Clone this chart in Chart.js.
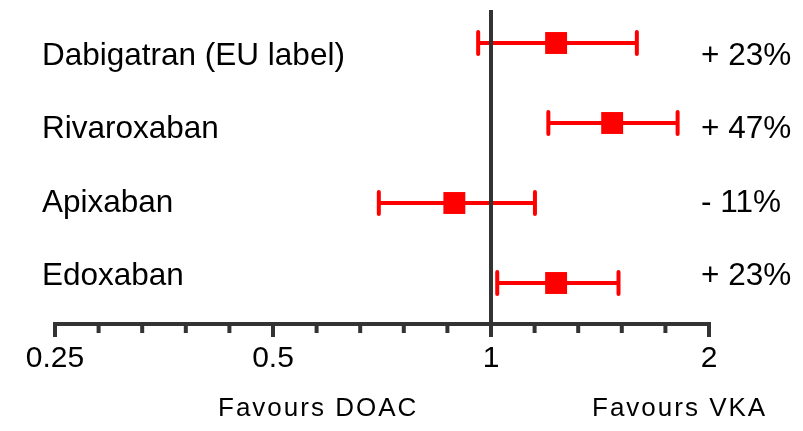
<!DOCTYPE html>
<html><head><meta charset="utf-8">
<script src="https://cdn.jsdelivr.net/npm/chart.js@4"></script>
<style>html,body{margin:0;padding:0;background:#fff;} canvas{display:block;}</style>
</head><body>
<canvas id="c" width="803" height="431"></canvas>
<script>
// ---- data ----
const drugs = ['Dabigatran (EU label)', 'Rivaroxaban', 'Apixaban', 'Edoxaban'];
const hazardRatio = [1.23, 1.47, 0.89, 1.23];
const ciLower = [0.96, 1.20, 0.70, 1.02];
const ciUpper = [1.59, 1.81, 1.15, 1.50];
const changeLabels = ['+ 23%', '+ 47%', '- 11%', '+ 23%'];
const majorTicks = [0.25, 0.5, 1, 2];
const majorTickLabels = ['0.25', '0.5', '1', '2'];
const favourLabels = ['Favours DOAC', 'Favours VKA'];
const referenceValue = 1;

// ---- style ----
const RED = '#ff0000';
const AXIS = '#333333';
const FONT = '"Liberation Sans", Arial, sans-serif';
const MINOR_PER_OCTAVE = 5;

const forestPlugin = {
  id: 'forest',
  beforeDatasetsDraw(chart) {
    const ctx = chart.ctx, xs = chart.scales.x, ys = chart.scales.y, area = chart.chartArea;
    ctx.save();
    // error bars
    ctx.strokeStyle = RED;
    ctx.lineWidth = 4;
    ctx.lineCap = 'round';
    drugs.forEach((d, i) => {
      const py = ys.getPixelForValue(i);
      const xl = xs.getPixelForValue(ciLower[i]);
      const xr = xs.getPixelForValue(ciUpper[i]);
      ctx.beginPath();
      ctx.moveTo(xl, py); ctx.lineTo(xr, py);
      ctx.moveTo(xl, py - 11); ctx.lineTo(xl, py + 11);
      ctx.moveTo(xr, py - 11); ctx.lineTo(xr, py + 11);
      ctx.stroke();
    });
    // reference line
    ctx.strokeStyle = AXIS;
    ctx.lineCap = 'butt';
    const rx = xs.getPixelForValue(referenceValue);
    ctx.beginPath();
    ctx.moveTo(rx, area.top); ctx.lineTo(rx, area.bottom);
    ctx.stroke();
    // axis line
    ctx.beginPath();
    ctx.moveTo(area.left - 2, area.bottom); ctx.lineTo(area.right + 2, area.bottom);
    ctx.stroke();
    // ticks
    ctx.lineWidth = 4;
    majorTicks.forEach((v, k) => {
      const px = xs.getPixelForValue(v);
      ctx.beginPath();
      ctx.moveTo(px, area.bottom); ctx.lineTo(px, area.bottom + 13);
      ctx.stroke();
      if (k < majorTicks.length - 1) {
        for (let m = 1; m < MINOR_PER_OCTAVE; m++) {
          const mx = xs.getPixelForValue(v * Math.pow(majorTicks[k + 1] / v, m / MINOR_PER_OCTAVE));
          ctx.beginPath();
          ctx.moveTo(mx, area.bottom); ctx.lineTo(mx, area.bottom + 9);
          ctx.stroke();
        }
      }
    });
    ctx.restore();
  },
  afterDraw(chart) {
    const ctx = chart.ctx, yt = chart.scales.yText;
    ctx.save();
    ctx.fillStyle = '#000';
    ctx.textBaseline = 'middle';
    ctx.textAlign = 'left';
    ctx.font = '31.5px ' + FONT;
    drugs.forEach((d, i) => {
      const py = yt.getPixelForValue(i);
      ctx.fillText(d, 42, py);
      ctx.fillText(changeLabels[i], 701, py);
    });
    ctx.font = '26px ' + FONT;
    try { ctx.letterSpacing = '2px'; } catch (e) {}
    ctx.fillText(favourLabels[0], 218, 409);
    ctx.fillText(favourLabels[1], 592, 409);
    ctx.restore();
  }
};

new Chart(document.getElementById('c'), {
  type: 'scatter',
  data: {
    datasets: [{
      data: hazardRatio.map((v, i) => ({ x: v, y: i })),
      pointStyle: 'rect',
      pointRadius: 15.5,
      pointHoverRadius: 15.5,
      backgroundColor: RED,
      borderColor: RED,
      borderWidth: 0
    }]
  },
  options: {
    responsive: false,
    animation: false,
    devicePixelRatio: 1,
    layout: { autoPadding: false, padding: { left: 55, right: 94, top: 10, bottom: 0 } },
    plugins: { legend: { display: false }, tooltip: { enabled: false } },
    scales: {
      x: {
        type: 'logarithmic',
        min: 0.25, max: 2,
        grid: { display: false, drawTicks: false },
        border: { display: false },
        afterBuildTicks: (s) => { s.ticks = majorTicks.map(v => ({ value: v })); },
        afterFit: (s) => { s.height = 107; },
        ticks: {
          autoSkip: false, maxRotation: 0, minRotation: 0,
          padding: 17,
          color: '#000',
          font: { family: FONT, size: 30 },
          callback: (v) => { const k = majorTicks.indexOf(v); return k >= 0 ? majorTickLabels[k] : ''; }
        }
      },
      y: { type: 'linear', min: -0.4125, max: 3.5125, reverse: true, display: false },
      yText: { type: 'linear', min: -0.632, max: 3.652, reverse: true, display: false }
    }
  },
  plugins: [forestPlugin]
});
</script>
</body></html>
